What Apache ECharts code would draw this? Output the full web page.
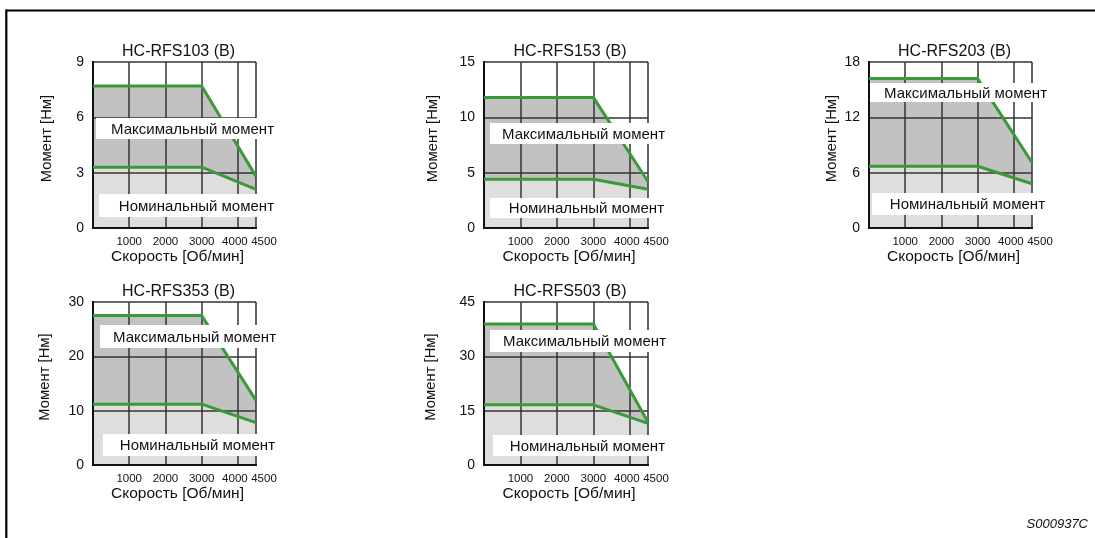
<!DOCTYPE html>
<html><head><meta charset="utf-8">
<script src="https://cdn.jsdelivr.net/npm/echarts@6/dist/echarts.min.js"></script>
<style>html,body{margin:0;padding:0;background:#fff}#c{width:1095px;height:538px}</style>
</head><body><div id="c"></div>
<script>
// ---- data ----
const titles = ['HC-RFS103 (B)', 'HC-RFS153 (B)', 'HC-RFS203 (B)', 'HC-RFS353 (B)', 'HC-RFS503 (B)'];
const speeds = [0, 3000, 4500];
const maxTorque103 = [7.7, 7.7, 2.8];
const ratedTorque103 = [3.3, 3.3, 2.1];
const maxTorque153 = [11.8, 11.8, 4.2];
const ratedTorque153 = [4.4, 4.4, 3.5];
const maxTorque203 = [16.2, 16.2, 7.1];
const ratedTorque203 = [6.7, 6.7, 4.8];
const maxTorque353 = [27.5, 27.5, 11.9];
const ratedTorque353 = [11.2, 11.2, 7.8];
const maxTorque503 = [38.9, 38.9, 11.8];
const ratedTorque503 = [16.6, 16.6, 11.5];
const yMax = [9, 15, 18, 30, 45];
const xMax = 4500;
const xStep = 1000;
const xLastGrid = 4000;
const xName = 'Скорость [Об/мин]';
const yName = 'Момент [Нм]';
const maxLabel = 'Максимальный момент';
const ratedLabel = 'Номинальный момент';
const footnote = 'S000937C';

const maxSets = [maxTorque103, maxTorque153, maxTorque203, maxTorque353, maxTorque503];
const ratedSets = [ratedTorque103, ratedTorque153, ratedTorque203, ratedTorque353, ratedTorque503];

// ---- layout ----
const layout = [
  {left: 93,  top: 62,  width: 163, height: 166, yGap: 39, maxBox: [96, 118, 181, 21],  ratedBox: [99, 194, 178, 23]},
  {left: 484, top: 62,  width: 164, height: 166, yGap: 44, maxBox: [490, 123, 178, 21], ratedBox: [490, 198, 177, 20]},
  {left: 869, top: 62,  width: 163, height: 166, yGap: 30, maxBox: [870, 83, 180, 19],  ratedBox: [872, 193, 176, 22]},
  {left: 93,  top: 302, width: 163, height: 163, yGap: 41, maxBox: [100, 325, 179, 23], ratedBox: [103, 434, 175, 22]},
  {left: 484, top: 302, width: 164, height: 163, yGap: 46, maxBox: [490, 330, 179, 22], ratedBox: [493, 435, 175, 21]}
];
const FONT = '"Liberation Sans", Arial, Helvetica, sans-serif';
const GREEN = '#3a9a3a';
const DARK = '#c2c2c2';
const LIGHT = '#dedede';
const INK = '#111';

const grid = [], xAxis = [], yAxis = [], series = [], title = [], graphic = [];
const pairs = arr => speeds.map((s, k) => [s, arr[k]]);
const tickFont = {fontFamily: FONT, fontSize: 11.5, color: INK};

layout.forEach((L, i) => {
  grid.push({left: L.left, top: L.top, width: L.width, height: L.height, show: false, containLabel: false});
  title.push({
    text: titles[i], left: L.left + L.width / 2 - 1, top: L.top - 23, textAlign: 'center',
    textStyle: {fontFamily: FONT, fontSize: 16, fontWeight: 'normal', color: INK}
  });
  // main bottom axis: ticks/labels 1000..4000 + grid lines
  xAxis.push({
    type: 'value', gridIndex: i, min: 0, max: xMax, interval: xStep, z: 2,
    axisLine: {show: true, lineStyle: {color: INK, width: 2}},
    axisTick: {show: false},
    splitLine: {show: true, lineStyle: {color: '#333', width: 1.5}},
    axisLabel: Object.assign({
      margin: 8, showMinLabel: false, showMaxLabel: false,
      formatter: v => v === xLastGrid ? '{f|' + v + '}' : String(v),
      rich: {f: Object.assign({padding: [0, 6, 0, 0]}, tickFont)}
    }, tickFont),
    name: xName, nameLocation: 'middle', nameGap: 18,
    nameTextStyle: {fontFamily: FONT, fontSize: 15.5, color: INK, padding: [0, 0, 0, 6]}
  });
  // top border
  xAxis.push({
    type: 'value', gridIndex: i, min: 0, max: xMax, position: 'top', z: 2,
    axisLine: {show: true, lineStyle: {color: INK, width: 2}},
    axisTick: {show: false}, axisLabel: {show: false}, splitLine: {show: false}
  });
  // end label (4500)
  xAxis.push({
    type: 'value', gridIndex: i, min: 0, max: xMax, interval: xMax, position: 'bottom', z: 2,
    axisLine: {show: false}, axisTick: {show: false}, splitLine: {show: false},
    axisLabel: Object.assign({
      margin: 8, showMinLabel: false, showMaxLabel: true,
      formatter: v => v === xMax ? '{e|' + v + '}' : '',
      rich: {e: Object.assign({padding: [0, 0, 0, 16]}, tickFont)}
    }, tickFont)
  });
  yAxis.push({
    type: 'value', gridIndex: i, min: 0, max: yMax[i], interval: yMax[i] / 3, z: 2,
    axisLine: {show: true, lineStyle: {color: INK, width: 2}},
    axisTick: {show: false},
    splitLine: {show: true, lineStyle: {color: '#333', width: 1.5}},
    axisLabel: {fontFamily: FONT, fontSize: 14, color: INK, margin: 9},
    name: yName, nameLocation: 'middle', nameGap: L.yGap, nameRotate: 90,
    nameTextStyle: {fontFamily: FONT, fontSize: 14.8, color: INK, padding: [0, 0, 0, 13]}
  });
  yAxis.push({
    type: 'value', gridIndex: i, min: 0, max: yMax[i], position: 'right', z: 2,
    axisLine: {show: true, lineStyle: {color: INK, width: 2}},
    axisTick: {show: false}, axisLabel: {show: false}, splitLine: {show: false}
  });
  const xi = 3 * i, yi = 2 * i;
  series.push({
    type: 'line', xAxisIndex: xi, yAxisIndex: yi, data: pairs(maxSets[i]), symbol: 'none', silent: true,
    lineStyle: {width: 0}, areaStyle: {color: DARK, opacity: 1}, z: 1, animation: false
  });
  series.push({
    type: 'line', xAxisIndex: xi, yAxisIndex: yi, data: pairs(ratedSets[i]), symbol: 'none', silent: true,
    lineStyle: {width: 0}, areaStyle: {color: LIGHT, opacity: 1}, z: 1, animation: false
  });
  series.push({
    type: 'line', xAxisIndex: xi, yAxisIndex: yi, data: pairs(maxSets[i]), symbol: 'none', silent: true,
    lineStyle: {width: 3, color: GREEN}, z: 3, animation: false
  });
  series.push({
    type: 'line', xAxisIndex: xi, yAxisIndex: yi, data: pairs(ratedSets[i]), symbol: 'none', silent: true,
    lineStyle: {width: 3, color: GREEN}, z: 3, animation: false
  });
  [[L.maxBox, maxLabel], [L.ratedBox, ratedLabel]].forEach(([b, t]) => {
    graphic.push({type: 'rect', z: 100, silent: true, shape: {x: b[0], y: b[1], width: b[2], height: b[3]}, style: {fill: '#fff'}});
    graphic.push({type: 'text', z: 101, silent: true, style: {
      x: b[0] + b[2] - 3, y: b[1] + b[3] / 2 + 1, text: t, align: 'right', verticalAlign: 'middle',
      font: '15px ' + FONT, fill: INK}});
  });
});

graphic.push({type: 'line', z: 100, silent: true, shape: {x1: 6, y1: 10.5, x2: 1095, y2: 10.5}, style: {stroke: '#000', lineWidth: 2.2}});
graphic.push({type: 'line', z: 100, silent: true, shape: {x1: 6.3, y1: 9.5, x2: 6.3, y2: 538}, style: {stroke: '#000', lineWidth: 2.2}});
graphic.push({type: 'text', z: 100, silent: true, style: {x: 1088, y: 524, text: footnote, align: 'right', verticalAlign: 'middle',
  font: 'italic 13px ' + FONT, fill: INK}});

const chart = echarts.init(document.getElementById('c'), null, {renderer: 'canvas'});
chart.setOption({animation: false, backgroundColor: '#fff', title, grid, xAxis, yAxis, series, graphic});
</script></body></html>
